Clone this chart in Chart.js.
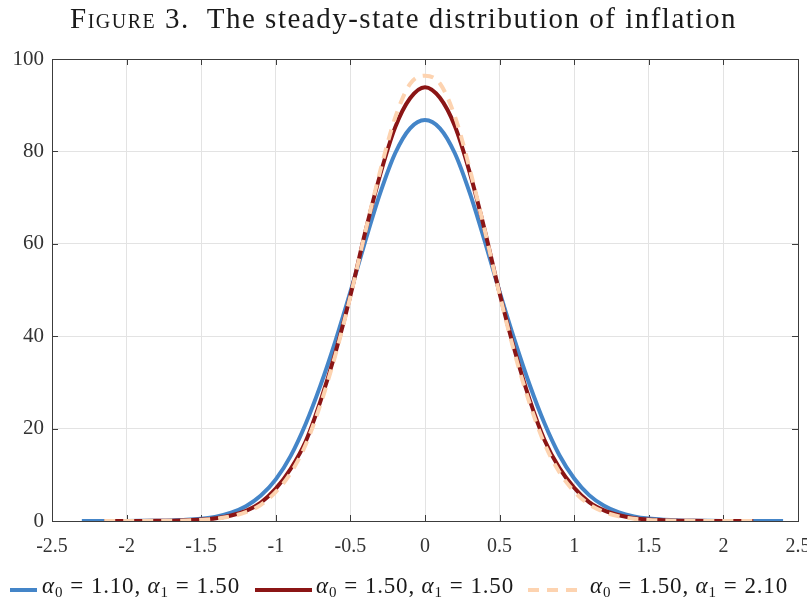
<!DOCTYPE html>
<html>
<head>
<meta charset="utf-8">
<script src="https://cdn.jsdelivr.net/npm/chart.js@4.4.1/dist/chart.umd.min.js"></script>
<style>
  body { margin: 0; background: #fff; }
  #wrap { position: relative; width: 807px; height: 601px; overflow: hidden; font-family: "Liberation Serif", serif; }
  #title { position: absolute; left: 0; top: 2px; width: 807px; text-align: center; font-size: 29px; letter-spacing: 1.5px; color: #1a1a1a; white-space: pre; }
  #title .sc { font-variant: small-caps; }
  #legend { position: absolute; left: 0; top: 572px; width: 807px; height: 30px; }
  .item { position: absolute; top: 0; height: 30px; white-space: nowrap; font-size: 23px; letter-spacing: 0.8px; color: #1a1a1a; }
  .item canvas { position: absolute; top: 0; }
  .item span.txt { position: absolute; top: 1px; }
  .item i { font-style: italic; }
  .item b { font-weight: normal; margin: 0 7px; }
  .item sub { font-size: 15px; vertical-align: -4px; line-height: 0; }
</style>
</head>
<body>
<div id="wrap">
  <canvas id="chart" width="807" height="601"></canvas>
  <div id="title"><span class="sc">Figure</span> 3.  The steady-state distribution of inflation</div>
  <div id="legend"></div>
</div>
<script>
// x grids and values
var xBlue = [-2.3,-2.2,-2.1,-2.0,-1.9,-1.8,-1.7,-1.6,-1.5,-1.4,-1.3,-1.2,-1.1,-1.0,-0.9,-0.8,-0.7,-0.6,-0.5,-0.4,-0.3,-0.2,-0.1,0,
             0.1,0.2,0.3,0.4,0.5,0.6,0.7,0.8,0.9,1.0,1.1,1.2,1.3,1.4,1.5,1.6,1.7,1.8,1.9,2.0,2.1,2.2,2.3,2.4];
var yBlue = [0,0,0,0.01,0.03,0.06,0.12,0.25,0.5,0.95,1.8,3.2,5.5,9.0,14.1,21.0,29.4,39.0,49.6,60.6,71.0,79.6,85.0,86.8,
             85.0,79.6,71.0,60.6,49.6,39.2,29.6,21.2,14.3,9.2,5.6,3.3,1.85,1.0,0.52,0.27,0.13,0.06,0.03,0.01,0,0,0,0];

var xRed = [-2.15,-2.1,-2.0,-1.9,-1.8,-1.7,-1.6,-1.5,-1.4,-1.3,-1.2,-1.1,-1.0,-0.9,-0.8,-0.7,-0.6,-0.5,-0.4,-0.3,-0.2,-0.1,0,
            0.1,0.2,0.3,0.4,0.5,0.6,0.7,0.8,0.9,1.0,1.1,1.2,1.3,1.4,1.5,1.6,1.7,1.8,1.9,2.0,2.1,2.2];
var yRed = [0,0,0,0.01,0.03,0.07,0.15,0.3,0.6,1.2,2.2,4.0,7.0,11.3,17.2,26.0,36.5,48.8,62.6,75.0,85.2,91.5,93.9,
            91.6,85.5,75.4,63.0,49.3,37.0,26.4,17.6,11.5,7.2,4.1,2.3,1.25,0.62,0.31,0.15,0.07,0.03,0.01,0,0,0];

var xPeach = xRed;
var yPeach = [0,0,0,0.01,0.02,0.05,0.11,0.24,0.5,1.0,1.9,3.5,6.3,10.4,16.5,25.3,36.0,48.6,62.6,75.8,87.3,94.6,96.4,
              94.7,87.6,76.2,63.0,49.0,36.4,25.6,16.8,10.6,6.4,3.6,1.95,1.0,0.5,0.24,0.11,0.05,0.02,0.01,0,0,0];

var alpha0 = ['1.10', '1.50', '1.50'];
var alpha1 = ['1.50', '1.50', '2.10'];
var colors = ['#4485c8', '#8b1515', '#fdd3b0'];

function pts(xs, ys) {
  return xs.map(function(x, i) { return { x: x, y: ys[i] }; });
}

// box + inward tick marks like the original axes
var axesBox = {
  id: 'axesBox',
  beforeDatasetsDraw: function(chart) {
    var ctx = chart.ctx, a = chart.chartArea;
    var xs = chart.scales.x, ys = chart.scales.y;
    ctx.save();
    ctx.strokeStyle = '#3c3c3c';
    ctx.lineWidth = 1;
    ctx.beginPath();
    xs.ticks.forEach(function(t) {
      var px = Math.round(xs.getPixelForValue(t.value)) + 0.5;
      ctx.moveTo(px, a.bottom); ctx.lineTo(px, a.bottom - 6);
      ctx.moveTo(px, a.top); ctx.lineTo(px, a.top + 6);
    });
    ys.ticks.forEach(function(t) {
      var py = Math.round(ys.getPixelForValue(t.value)) + 0.5;
      ctx.moveTo(a.left, py); ctx.lineTo(a.left + 6, py);
      ctx.moveTo(a.right, py); ctx.lineTo(a.right - 6, py);
    });
    ctx.stroke();
    ctx.strokeRect(Math.round(a.left) + 0.5, Math.round(a.top) + 0.5,
                   Math.round(a.right - a.left), Math.round(a.bottom - a.top));
    ctx.restore();
  }
};

var chart = new Chart(document.getElementById('chart'), {
  type: 'line',
  data: {
    datasets: [{
      data: pts(xBlue, yBlue),
      borderColor: colors[0],
      borderWidth: 4,
      order: 2
    }, {
      data: pts(xRed, yRed),
      borderColor: colors[1],
      borderWidth: 4,
      order: 1
    }, {
      data: pts(xPeach, yPeach),
      borderColor: colors[2],
      borderWidth: 4,
      borderDash: [11, 8],
      order: 0
    }]
  },
  options: {
    responsive: false,
    animation: false,
    elements: {
      point: { radius: 0 },
      line: { cubicInterpolationMode: 'monotone', fill: false }
    },
    layout: {
      padding: { left: 0, right: 9, top: 59, bottom: 40 }
    },
    plugins: {
      legend: { display: false },
      title: { display: false },
      tooltip: { enabled: false }
    },
    scales: {
      x: {
        type: 'linear',
        min: -2.5, max: 2.5,
        afterFit: function(s) { s.height = 40; s.paddingLeft = 0; s.paddingRight = 0; },
        ticks: {
          stepSize: 0.5,
          padding: 14,
          color: '#333',
          font: { family: 'Liberation Serif', size: 20 },
          maxRotation: 0,
          callback: function(v) { return String(Math.round(v * 10) / 10); }
        },
        grid: { color: '#e3e3e3', drawTicks: false },
        border: { display: false }
      },
      y: {
        min: 0, max: 100,
        afterFit: function(s) { s.width = 52; s.paddingTop = 0; s.paddingBottom = 0; },
        ticks: {
          stepSize: 20,
          padding: 8,
          color: '#333',
          font: { family: 'Liberation Serif', size: 21 }
        },
        grid: { color: '#e3e3e3', drawTicks: false },
        border: { display: false }
      }
    }
  },
  plugins: [axesBox]
});

// legend built from the datasets (html so the subscripts render)
var lineLeft = [10, 255, 528];
var lineLen = [27, 57, 57];
var textLeft = [42, 316, 590];
var legend = document.getElementById('legend');
chart.data.datasets.forEach(function(ds, i) {
  var item = document.createElement('div');
  item.className = 'item';
  item.style.left = '0px';
  var c = document.createElement('canvas');
  c.width = lineLen[i]; c.height = 30;
  c.style.left = lineLeft[i] + 'px';
  var g = c.getContext('2d');
  g.strokeStyle = ds.borderColor;
  g.lineWidth = 4;
  if (ds.borderDash) g.setLineDash(ds.borderDash);
  g.beginPath(); g.moveTo(0, 18); g.lineTo(lineLen[i], 18); g.stroke();
  item.appendChild(c);
  var t = document.createElement('span');
  t.className = 'txt';
  t.style.left = textLeft[i] + 'px';
  t.innerHTML = '<i>\u03b1</i><sub>0</sub><b>=</b>' + alpha0[i] + ', <i>\u03b1</i><sub>1</sub><b>=</b>' + alpha1[i];
  item.appendChild(t);
  legend.appendChild(item);
});
</script>
</body>
</html>
